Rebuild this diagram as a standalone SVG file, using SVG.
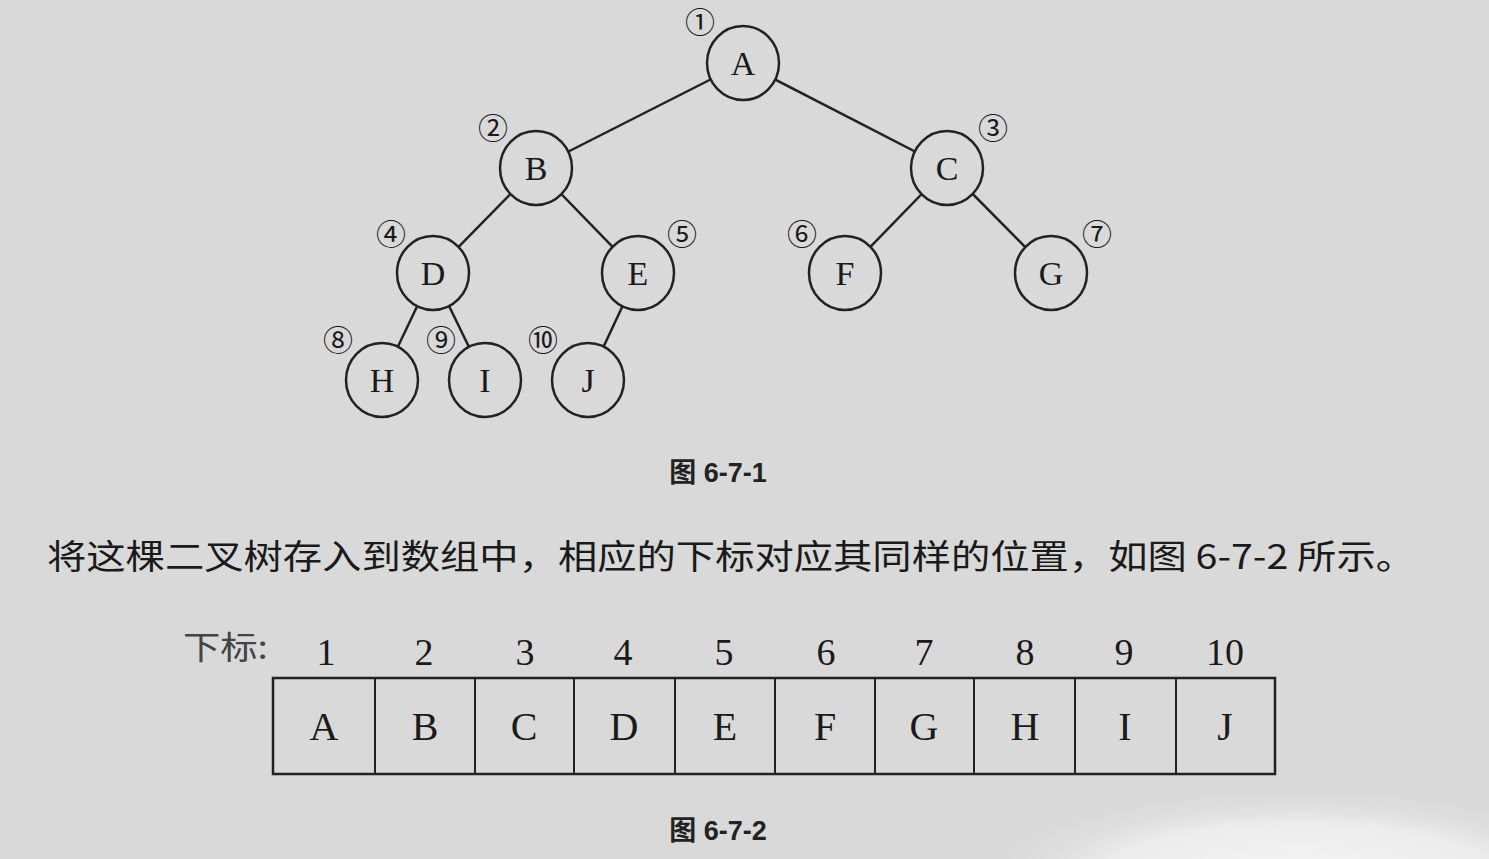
<svg xmlns="http://www.w3.org/2000/svg" width="1489" height="859" viewBox="0 0 1489 859">
<defs>
<radialGradient id="glare" cx="0.5" cy="0.5" r="0.5">
<stop offset="0" stop-color="#f4f4f4"/>
<stop offset="0.6" stop-color="#ececec"/>
<stop offset="1" stop-color="#d9d9d9" stop-opacity="0"/>
</radialGradient>
<style>
.node ellipse{fill:#d9d9d9;stroke:#222;stroke-width:2.5}
.lbl{font-family:"Liberation Serif","Noto Serif",serif;font-size:34px;fill:#1a1a1a;text-anchor:middle}
.num{font-family:"Noto Sans CJK SC","DejaVu Sans",sans-serif;font-size:30px;fill:#1a1a1a;text-anchor:middle}
.edge{stroke:#222;stroke-width:2.5;fill:none}
.idx{font-family:"Liberation Serif",serif;font-size:38px;fill:#1a1a1a;text-anchor:middle}
.cell{font-family:"Liberation Serif",serif;font-size:40px;fill:#1a1a1a;text-anchor:middle}
.cap{font-family:"Liberation Sans","Noto Sans CJK SC",sans-serif;font-size:27px;font-weight:bold;fill:#222;text-anchor:middle}
</style>
</defs>
<rect x="0" y="0" width="1489" height="859" fill="#d9d9d9"/>
<ellipse cx="1300" cy="880" rx="330" ry="95" fill="url(#glare)"/>

<g id="connectors">
<line class="edge" x1="743" y1="63" x2="536" y2="168"/>
<line class="edge" x1="743" y1="63" x2="947" y2="168"/>
<line class="edge" x1="536" y1="168" x2="433" y2="273"/>
<line class="edge" x1="536" y1="168" x2="638" y2="273"/>
<line class="edge" x1="947" y1="168" x2="845" y2="273"/>
<line class="edge" x1="947" y1="168" x2="1051" y2="273"/>
<line class="edge" x1="433" y1="273" x2="382" y2="380"/>
<line class="edge" x1="433" y1="273" x2="485" y2="380"/>
<line class="edge" x1="638" y1="273" x2="588" y2="380"/>
</g>

<g id="node-A" class="node"><ellipse cx="743" cy="63" rx="36" ry="37"/><text class="lbl" x="743" y="75">A</text><text class="num" x="700" y="33">①</text></g>
<g id="node-B" class="node"><ellipse cx="536" cy="168" rx="36" ry="37"/><text class="lbl" x="536" y="180">B</text><text class="num" x="493" y="139">②</text></g>
<g id="node-C" class="node"><ellipse cx="947" cy="168" rx="36" ry="37"/><text class="lbl" x="947" y="180">C</text><text class="num" x="993" y="139">③</text></g>
<g id="node-D" class="node"><ellipse cx="433" cy="273" rx="36" ry="37"/><text class="lbl" x="433" y="285">D</text><text class="num" x="391" y="245">④</text></g>
<g id="node-E" class="node"><ellipse cx="638" cy="273" rx="36" ry="37"/><text class="lbl" x="638" y="285">E</text><text class="num" x="682" y="245">⑤</text></g>
<g id="node-F" class="node"><ellipse cx="845" cy="273" rx="36" ry="37"/><text class="lbl" x="845" y="285">F</text><text class="num" x="802" y="245">⑥</text></g>
<g id="node-G" class="node"><ellipse cx="1051" cy="273" rx="36" ry="37"/><text class="lbl" x="1051" y="285">G</text><text class="num" x="1097" y="245">⑦</text></g>
<g id="node-H" class="node"><ellipse cx="382" cy="380" rx="36" ry="37"/><text class="lbl" x="382" y="392">H</text><text class="num" x="338" y="351">⑧</text></g>
<g id="node-I" class="node"><ellipse cx="485" cy="380" rx="36" ry="37"/><text class="lbl" x="485" y="392">I</text><text class="num" x="441" y="351">⑨</text></g>
<g id="node-J" class="node"><ellipse cx="588" cy="380" rx="36" ry="37"/><text class="lbl" x="588" y="392">J</text><text class="num" x="543" y="351">⑩</text></g>

<text class="cap" x="718" y="482">图 6-7-1</text>

<text x="47" y="569" font-family="Noto Sans CJK SC,sans-serif" font-size="34" font-weight="400" fill="#1a1a1a" textLength="1368" lengthAdjust="spacingAndGlyphs">将这棵二叉树存入到数组中，相应的下标对应其同样的位置，如图 6-7-2 所示。</text>

<g id="array">
<text x="183" y="659" font-family="Noto Sans CJK SC,sans-serif" font-size="32" fill="#444" textLength="85" lengthAdjust="spacingAndGlyphs">下标:</text>
<g id="indices">
<text class="idx" x="326" y="665">1</text>
<text class="idx" x="424" y="665">2</text>
<text class="idx" x="525" y="665">3</text>
<text class="idx" x="623" y="665">4</text>
<text class="idx" x="724" y="665">5</text>
<text class="idx" x="826" y="665">6</text>
<text class="idx" x="924" y="665">7</text>
<text class="idx" x="1025" y="665">8</text>
<text class="idx" x="1124" y="665">9</text>
<text class="idx" x="1225" y="665">10</text>
</g>
<rect x="273" y="678" width="1002" height="96" fill="none" stroke="#222" stroke-width="2.5"/>
<g stroke="#222" stroke-width="2">
<line x1="375" y1="678" x2="375" y2="774"/>
<line x1="475" y1="678" x2="475" y2="774"/>
<line x1="574" y1="678" x2="574" y2="774"/>
<line x1="675" y1="678" x2="675" y2="774"/>
<line x1="775" y1="678" x2="775" y2="774"/>
<line x1="875" y1="678" x2="875" y2="774"/>
<line x1="974" y1="678" x2="974" y2="774"/>
<line x1="1075" y1="678" x2="1075" y2="774"/>
<line x1="1176" y1="678" x2="1176" y2="774"/>
</g>
<text class="cell" x="324" y="740">A</text>
<text class="cell" x="425" y="740">B</text>
<text class="cell" x="524" y="740">C</text>
<text class="cell" x="624" y="740">D</text>
<text class="cell" x="725" y="740">E</text>
<text class="cell" x="825" y="740">F</text>
<text class="cell" x="924" y="740">G</text>
<text class="cell" x="1025" y="740">H</text>
<text class="cell" x="1125" y="740">I</text>
<text class="cell" x="1225" y="740">J</text>
</g>

<text class="cap" x="718" y="840">图 6-7-2</text>
</svg>
